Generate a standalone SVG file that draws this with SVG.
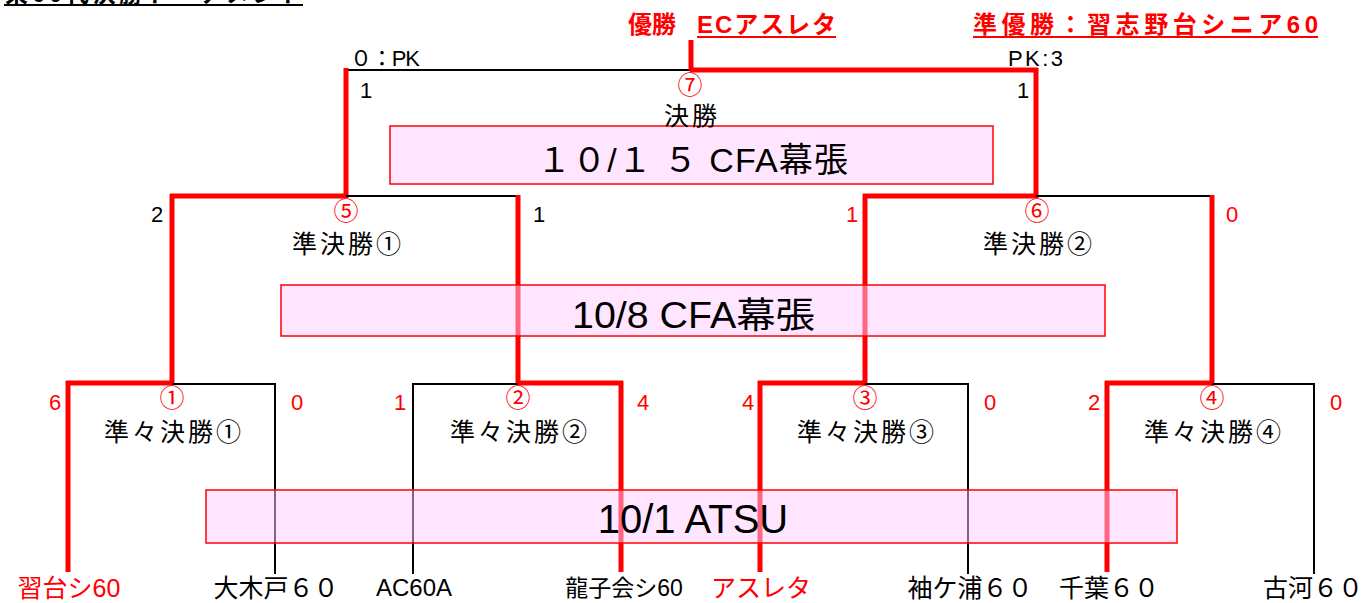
<svg xmlns="http://www.w3.org/2000/svg" width="1369" height="603" viewBox="0 0 1369 603">
<style>
text{font-family:"Liberation Sans","Noto Sans CJK JP",sans-serif}
.jp{font-family:"Noto Sans CJK JP","Liberation Sans",sans-serif}
.bk{stroke:#000;stroke-width:2;fill:none}
.rd{stroke:#ff0000;stroke-width:5;fill:none}
.box{fill:#ffccff;fill-opacity:0.5;stroke:#ff0000;stroke-width:1.5}
.sc{font-size:22px;text-anchor:middle}
.r{fill:#ff0000}
.k{fill:#000}
.lbl{font-size:25px;text-anchor:middle;letter-spacing:3px}
.cir{font-size:25px;text-anchor:middle;fill:#ff0000}
.team{font-size:25px;text-anchor:middle}
</style>
<rect width="1369" height="603" fill="#fff"/>
<g id="title">
<text class="jp" x="5" y="2" font-size="23" font-weight="bold" textLength="297">東60代決勝トーナメント</text>
<line x1="4" y1="5" x2="303" y2="5" stroke="#000" stroke-width="2"/>
</g>
<g id="connectors">
<line class="bk" x1="346" y1="70" x2="690" y2="70"/>
<line class="rd" x1="690" y1="70" x2="1038" y2="70"/>
<line class="rd" x1="691" y1="40" x2="691" y2="70" stroke-width="3"/>
<line class="rd" x1="346" y1="68" x2="346" y2="198"/>
<line class="rd" x1="1036" y1="68" x2="1036" y2="198"/>
<line class="rd" x1="170" y1="196" x2="346" y2="196"/>
<line class="bk" x1="346" y1="196" x2="518" y2="196"/>
<line class="rd" x1="172" y1="194" x2="172" y2="385"/>
<line class="rd" x1="518" y1="195" x2="518" y2="385"/>
<line class="rd" x1="863" y1="196" x2="1036" y2="196"/>
<line class="bk" x1="1036" y1="196" x2="1212" y2="196"/>
<line class="rd" x1="865" y1="194" x2="865" y2="385"/>
<line class="rd" x1="1212" y1="195" x2="1212" y2="385"/>
<line class="rd" x1="66" y1="383" x2="172" y2="383"/>
<line class="bk" x1="172" y1="384" x2="276" y2="384"/>
<line class="rd" x1="68" y1="381" x2="68" y2="572"/>
<line class="bk" x1="275" y1="383" x2="275" y2="574"/>
<line class="bk" x1="413" y1="384" x2="518" y2="384"/>
<line class="rd" x1="518" y1="383" x2="623" y2="383"/>
<line class="bk" x1="413" y1="383" x2="413" y2="574"/>
<line class="rd" x1="621" y1="381" x2="621" y2="572"/>
<line class="rd" x1="758" y1="383" x2="865" y2="383"/>
<line class="bk" x1="865" y1="384" x2="969" y2="384"/>
<line class="rd" x1="760" y1="381" x2="760" y2="572"/>
<line class="bk" x1="968" y1="383" x2="968" y2="574"/>
<line class="rd" x1="1105" y1="383" x2="1212" y2="383"/>
<line class="bk" x1="1212" y1="384" x2="1315" y2="384"/>
<line class="rd" x1="1107" y1="381" x2="1107" y2="572"/>
<line class="bk" x1="1314" y1="383" x2="1314" y2="574"/>
</g>
<g id="venue-final"><rect class="box" x="390" y="126" width="603" height="58"/>
<text x="537" y="172" font-size="34" class="k" textLength="311">１０/１ ５ CFA幕張</text></g>
<g id="venue-sf"><rect class="box" x="281" y="285" width="824" height="51"/>
<text x="572" y="328" font-size="36" class="k" textLength="243" lengthAdjust="spacingAndGlyphs">10/8 CFA幕張</text></g>
<g id="venue-qf"><rect class="box" x="206" y="490" width="971" height="53"/>
<text x="693" y="533" font-size="40" text-anchor="middle" class="k">10/1 ATSU</text></g>
<g id="header">
<text x="628" y="33" font-size="24" font-weight="bold" class="r">優勝</text>
<text x="697" y="33" font-size="24" font-weight="bold" class="r" textLength="139">ECアスレタ</text>
<line x1="697" y1="37" x2="836" y2="37" stroke="#ff0000" stroke-width="2"/>
<text x="973" y="33" font-size="24" font-weight="bold" class="r" textLength="345">準優勝：習志野台シニア60</text>
<line x1="973" y1="37" x2="1318" y2="37" stroke="#ff0000" stroke-width="2"/>
</g>
<g id="final">
<text x="350" y="66" font-size="22" class="k" textLength="70">０：PK</text>
<text x="1008" y="66" font-size="22" class="k" textLength="55">PK:3</text>
<text x="366" y="98" class="sc k">1</text>
<text x="1023" y="98" class="sc k">1</text>
<text x="690" y="94" class="cir">⑦</text>
<text x="692" y="125" class="lbl k">決勝</text>
</g>
<g id="sf1">
<text x="157" y="222" class="sc k">2</text>
<text x="539" y="222" class="sc k">1</text>
<text x="346" y="220" class="cir">⑤</text>
<text x="348" y="253" class="lbl k">準決勝①</text>
</g>
<g id="sf2">
<text x="852" y="222" class="sc r">1</text>
<text x="1232" y="222" class="sc r">0</text>
<text x="1037" y="220" class="cir">⑥</text>
<text x="1039" y="253" class="lbl k">準決勝②</text>
</g>
<g id="qf1">
<text x="55" y="410" class="sc r">6</text>
<text x="297" y="410" class="sc r">0</text>
<text x="172" y="407" class="cir">①</text>
<text x="174" y="441" class="lbl k">準々決勝①</text>
</g>
<g id="qf2">
<text x="400" y="410" class="sc r">1</text>
<text x="643" y="410" class="sc r">4</text>
<text x="518" y="407" class="cir">②</text>
<text x="520" y="441" class="lbl k">準々決勝②</text>
</g>
<g id="qf3">
<text x="748" y="410" class="sc r">4</text>
<text x="990" y="410" class="sc r">0</text>
<text x="865" y="407" class="cir">③</text>
<text x="867" y="441" class="lbl k">準々決勝③</text>
</g>
<g id="qf4">
<text x="1094" y="410" class="sc r">2</text>
<text x="1336" y="410" class="sc r">0</text>
<text x="1212" y="407" class="cir">④</text>
<text x="1214" y="441" class="lbl k">準々決勝④</text>
</g>
<g id="teams">
<text x="69" y="597" class="team r">習台シ60</text>
<text x="276" y="597" class="team k">大木戸６０</text>
<text x="414" y="596" font-size="24" text-anchor="middle" class="k">AC60A</text>
<text x="624" y="596" font-size="23" text-anchor="middle" class="k">龍子会シ60</text>
<text x="761" y="597" class="team r">アスレタ</text>
<text x="970" y="597" class="team k">袖ケ浦６０</text>
<text x="1109" y="597" class="team k">千葉６０</text>
<text x="1313" y="597" class="team k">古河６０</text>
</g>
</svg>
